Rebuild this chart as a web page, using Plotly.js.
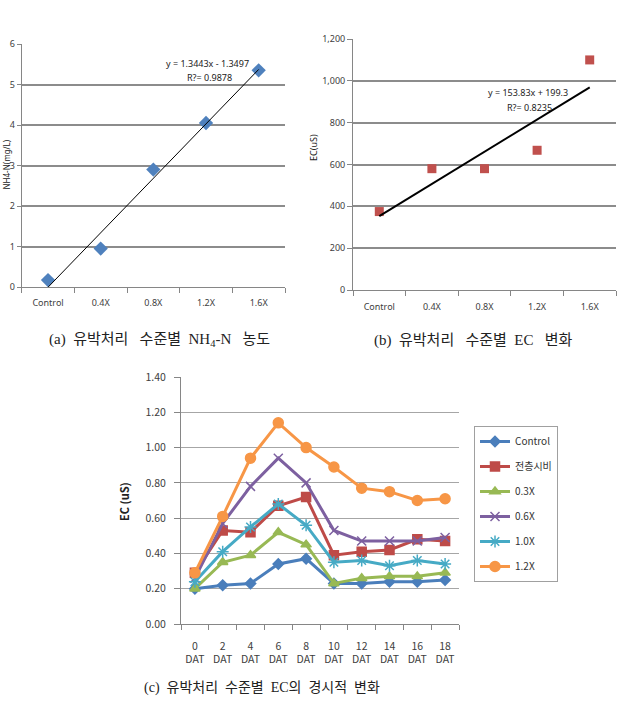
<!DOCTYPE html>
<html><head><meta charset="utf-8">
<script src="https://cdn.plot.ly/plotly-3.0.1.min.js"></script>
<style>html,body{margin:0;padding:0;background:#fff}</style>
</head><body><div id="chart" style="width:637px;height:705px"></div>
<script>
// ---- Data: panel (a) and (b)
const treatCats = ['Control', '0.4X', '0.8X', '1.2X', '1.6X'];
const nh4Values = [0.17, 0.95, 2.9, 4.05, 5.35];
const ecTreatValues = [375, 580, 580, 668, 1100];
// trendline equations as printed on the chart
const slopeA = 1.3443, interceptA = -1.3497, r2A = '0.9878';
const slopeB = 153.83, interceptB = 199.3, r2B = '0.8235';

// ---- Data: panel (c)
const datLabels = ['0<br>DAT', '2<br>DAT', '4<br>DAT', '6<br>DAT', '8<br>DAT', '10<br>DAT', '12<br>DAT', '14<br>DAT', '16<br>DAT', '18<br>DAT'];
const seriesNames = ['Control', '전층시비', '0.3X', '0.6X', '1.0X', '1.2X'];
const ecControl = [0.20, 0.22, 0.23, 0.34, 0.37, 0.23, 0.23, 0.24, 0.24, 0.25];
const ecFull    = [0.29, 0.53, 0.52, 0.67, 0.72, 0.39, 0.41, 0.42, 0.48, 0.47];
const ec03X     = [0.20, 0.35, 0.39, 0.52, 0.45, 0.23, 0.26, 0.27, 0.27, 0.29];
const ec06X     = [0.26, 0.57, 0.78, 0.94, 0.80, 0.53, 0.47, 0.47, 0.47, 0.49];
const ec10X     = [0.24, 0.41, 0.55, 0.68, 0.56, 0.35, 0.36, 0.33, 0.36, 0.34];
const ec12X     = [0.29, 0.61, 0.94, 1.14, 1.00, 0.89, 0.77, 0.75, 0.70, 0.71];

const W = 637, H = 705;
const px = x => x / W, py = y => 1 - y / H;
const tickFontAB = {family: 'Noto Sans, DejaVu Sans, sans-serif', size: 9, color: '#404040'};
const tickFontC = {family: 'Noto Sans CJK KR, Noto Sans, sans-serif', size: 10.5, color: '#404040'};
const axisGray = '#868686';

const traces = [];
// (a)
traces.push({x: treatCats, y: nh4Values, type: 'scatter', mode: 'markers', xaxis: 'x', yaxis: 'y',
  marker: {symbol: 'diamond', size: 11, color: '#4F81BD'}, showlegend: false});
traces.push({x: [treatCats[0], treatCats[4]], y: [slopeA * 1 + interceptA, slopeA * 5 + interceptA],
  type: 'scatter', mode: 'lines', xaxis: 'x', yaxis: 'y', line: {color: '#000', width: 1}, showlegend: false});
// (b)
traces.push({x: treatCats, y: ecTreatValues, type: 'scatter', mode: 'markers', xaxis: 'x2', yaxis: 'y2',
  marker: {symbol: 'square', size: 9, color: '#C0504D'}, showlegend: false});
traces.push({x: [treatCats[0], treatCats[4]], y: [slopeB * 1 + interceptB, slopeB * 5 + interceptB],
  type: 'scatter', mode: 'lines', xaxis: 'x2', yaxis: 'y2', line: {color: '#000', width: 2}, showlegend: false});
// (c)
const cSeries = [ecControl, ecFull, ec03X, ec06X, ec10X, ec12X];
const cColors = ['#4A7EBB', '#BE4B48', '#98B954', '#7D60A0', '#46AAC5', '#F79646'];
const cSymbols = ['diamond', 'square', 'triangle-up', 'x-thin-open', 'asterisk-open', 'circle'];
const cSizes = [8, 9, 9, 9, 10, 10];
cSeries.forEach((vals, i) => {
  traces.push({x: datLabels, y: vals, name: seriesNames[i], type: 'scatter', mode: 'lines+markers',
    xaxis: 'x3', yaxis: 'y3', legendgroup: 'g' + i,
    line: {color: cColors[i], width: 3},
    marker: {symbol: cSymbols[i], size: cSizes[i], color: cColors[i], line: {color: cColors[i], width: 1.5}}});
});

const catAxis = (domain, anchor, font, n, standoff) => ({domain, anchor, type: 'category', range: [-0.5, n - 0.5],
  tickson: 'boundaries', ticks: 'outside', ticklen: 5, tickcolor: axisGray, showline: true, linecolor: axisGray,
  linewidth: 1, showgrid: false, tickfont: font, tickangle: 0, ticklabelstandoff: standoff, automargin: false});

const layout = {
  width: W, height: H, margin: {l: 0, r: 0, t: 0, b: 0}, paper_bgcolor: '#fff', plot_bgcolor: '#fff',
  showlegend: true,
  xaxis: catAxis([px(21.7), px(285)], 'y', tickFontAB, 5, 7),
  yaxis: {domain: [py(287), py(44)], anchor: 'x', range: [0, 6], dtick: 1, gridcolor: '#8c8c8c', gridwidth: 2,
    showline: true, linecolor: axisGray, ticks: 'outside', ticklen: 4, tickcolor: axisGray, zeroline: false,
    tickfont: tickFontAB, automargin: false},
  xaxis2: catAxis([px(353), px(616)], 'y2', tickFontAB, 5, 8),
  yaxis2: {domain: [py(290), py(39)], anchor: 'x2', range: [0, 1200], dtick: 200, tickformat: ',d',
    gridcolor: '#8c8c8c', gridwidth: 2, showline: true, linecolor: axisGray, ticks: 'outside', ticklen: 5,
    tickcolor: axisGray, zeroline: false, tickfont: tickFontAB, automargin: false},
  xaxis3: catAxis([px(181), px(459)], 'y3', tickFontC, 10, 12),
  yaxis3: {domain: [py(624), py(377)], anchor: 'x3', range: [0, 1.4], dtick: 0.2, tickformat: '.2f',
    gridcolor: '#a6a6a6', gridwidth: 1, showline: true, linecolor: axisGray, ticks: 'outside', ticklen: 6,
    tickcolor: axisGray, zeroline: false, tickfont: tickFontC, ticklabelstandoff: 6, automargin: false},
  legend: {x: px(474), y: py(426), xanchor: 'left', yanchor: 'top', bgcolor: '#fff', bordercolor: '#a0a0a0',
    borderwidth: 1, tracegroupgap: 6, font: {family: 'Noto Sans CJK KR, Noto Sans, sans-serif', size: 10, color: '#333'}},
  annotations: [
    {x: px(208), y: py(63), xref: 'paper', yref: 'paper', xanchor: 'center', yanchor: 'middle',
      text: 'y = ' + slopeA + 'x - ' + Math.abs(interceptA),
      showarrow: false, font: {family: 'Noto Sans, sans-serif', size: 9, color: '#222'}},
    {x: px(209), y: py(78), xref: 'paper', yref: 'paper', xanchor: 'center', yanchor: 'middle',
      text: 'R?= ' + r2A,
      showarrow: false, font: {family: 'Noto Sans, sans-serif', size: 9, color: '#222'}},
    {x: px(528), y: py(93), xref: 'paper', yref: 'paper', xanchor: 'center', yanchor: 'middle',
      text: 'y = ' + slopeB + 'x + ' + interceptB,
      showarrow: false, font: {family: 'Noto Sans, sans-serif', size: 9, color: '#222'}},
    {x: px(529), y: py(107), xref: 'paper', yref: 'paper', xanchor: 'center', yanchor: 'middle',
      text: 'R?= ' + r2B,
      showarrow: false, font: {family: 'Noto Sans, sans-serif', size: 9, color: '#222'}},
    {x: px(5.5), y: py(165), xref: 'paper', yref: 'paper', xanchor: 'center', yanchor: 'middle',
      text: 'NH4-N(mg/L)', textangle: -90,
      showarrow: false, font: {family: 'Noto Sans, sans-serif', size: 8, color: '#222'}},
    {x: px(314), y: py(148), xref: 'paper', yref: 'paper', xanchor: 'center', yanchor: 'middle',
      text: 'EC(uS)', textangle: -90,
      showarrow: false, font: {family: 'Noto Sans, sans-serif', size: 9, color: '#222'}},
    {x: px(124), y: py(502), xref: 'paper', yref: 'paper', xanchor: 'center', yanchor: 'middle',
      text: '<b>EC (uS)</b>', textangle: -90,
      showarrow: false, font: {family: 'Noto Sans CJK KR, Noto Sans, sans-serif', size: 11, color: '#222'}},
    {x: px(47), y: py(340), xref: 'paper', yref: 'paper', xanchor: 'left', yanchor: 'middle',
      text: '(a)\u00A0\u00A0유박처리\u00A0\u00A0\u00A0수준별\u00A0\u00A0NH<sub>4</sub>-N\u00A0\u00A0\u00A0농도',
      showarrow: false, font: {family: 'Liberation Serif, Noto Sans CJK KR, serif', size: 15, color: '#222'}},
    {x: px(372), y: py(340), xref: 'paper', yref: 'paper', xanchor: 'left', yanchor: 'middle',
      text: '(b)\u00A0\u00A0유박처리\u00A0\u00A0\u00A0수준별\u00A0\u00A0EC\u00A0\u00A0\u00A0변화',
      showarrow: false, font: {family: 'Liberation Serif, Noto Sans CJK KR, serif', size: 15, color: '#222'}},
    {x: px(142), y: py(688), xref: 'paper', yref: 'paper', xanchor: 'left', yanchor: 'middle',
      text: '(c)\u00A0\u00A0유박처리\u00A0\u00A0수준별\u00A0\u00A0EC의\u00A0\u00A0경시적\u00A0\u00A0변화',
      showarrow: false, font: {family: 'Liberation Serif, Noto Sans CJK KR, serif', size: 14, color: '#222'}}
  ]
};
Plotly.newPlot('chart', traces, layout, {staticPlot: true, displayModeBar: false});
</script></body></html>
